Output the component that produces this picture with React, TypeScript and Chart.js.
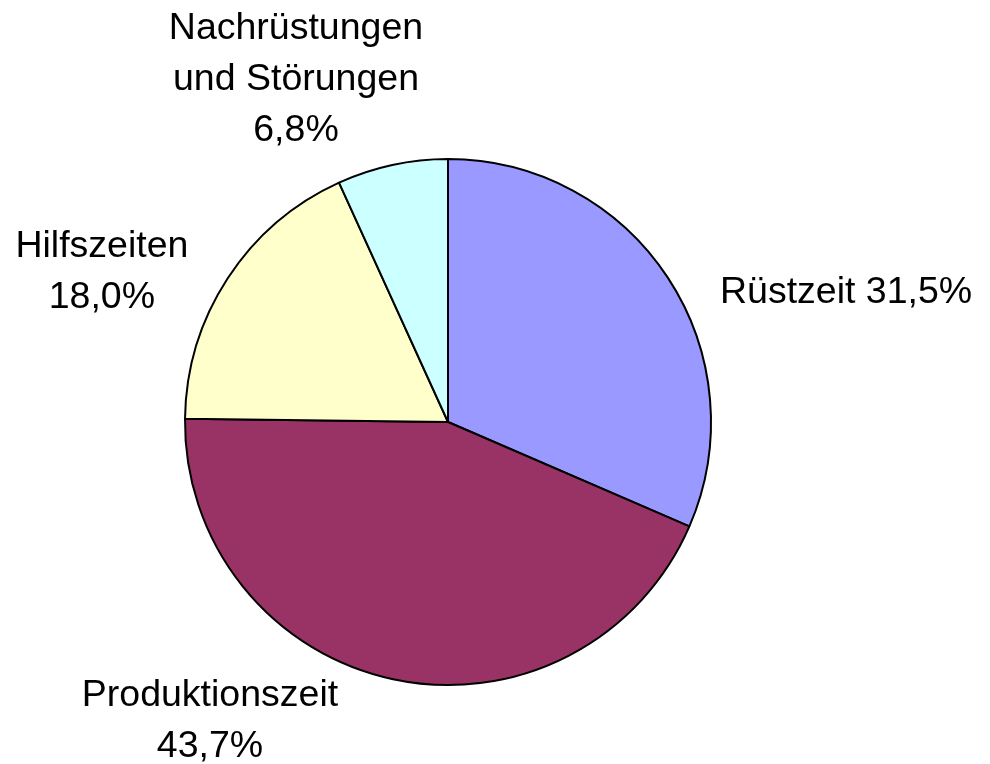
import React, { useEffect, useRef } from "react";
import { Chart, registerables } from "chart.js";

Chart.register(...registerables);

const categories = ["Rüstzeit", "Produktionszeit", "Hilfszeiten", "Nachrüstungen und Störungen"];
const values = [31.5, 43.7, 18.0, 6.8];
const colors = ["#9999FF", "#993366", "#FFFFCC", "#CCFFFF"];
// label lines (text) per slice
const labelLines = [
  ["Rüstzeit 31,5%"],
  ["Produktionszeit", "43,7%"],
  ["Hilfszeiten", "18,0%"],
  ["Nachrüstungen", "und Störungen", "6,8%"],
];
// label anchor relative to pie center, in radius units; align
const labelAnchors: { dx: number; dy: number; align: CanvasTextAlign }[] = [
  { dx: 1.034, dy: -0.49, align: "left" },
  { dx: -0.905, dy: 1.04, align: "center" },
  { dx: -1.316, dy: -0.665, align: "center" },
  { dx: -0.578, dy: -1.494, align: "center" },
];

const labelPlugin = {
  id: "sliceLabels",
  afterDraw(chart: any) {
    const meta = chart.getDatasetMeta(0);
    const ctx = chart.ctx;
    ctx.save();
    ctx.fillStyle = "#000000";
    ctx.font = '37.5px "Liberation Sans", Arial, sans-serif';
    ctx.textBaseline = "middle";
    meta.data.forEach((arc: any, i: number) => {
      const r = arc.outerRadius;
      const a = labelAnchors[i];
      const x = arc.x + a.dx * r;
      let y = arc.y + a.dy * r;
      ctx.textAlign = a.align;
      labelLines[i].forEach((line) => {
        ctx.fillText(line, x, y);
        y += 51;
      });
    });
    ctx.restore();
  },
};

export default function App() {
  const ref = useRef<HTMLCanvasElement>(null);
  useEffect(() => {
    if (!ref.current) return;
    const chart = new Chart(ref.current, {
      type: "pie",
      data: {
        labels: categories,
        datasets: [
          {
            data: values,
            backgroundColor: colors,
            borderColor: "#000000",
            borderWidth: 2,
            hoverOffset: 0,
          },
        ],
      },
      options: {
        responsive: false,
        animation: false,
        layout: { padding: { left: 184, right: 278, top: 158, bottom: 78 } },
        plugins: { legend: { display: false }, tooltip: { enabled: false } },
      },
      plugins: [labelPlugin],
    });
    return () => chart.destroy();
  }, []);
  return (
    <div style={{ position: "absolute", left: 0, top: 0, width: 990, height: 764, background: "#fff" }}>
      <canvas ref={ref} width={990} height={764} />
    </div>
  );
}
